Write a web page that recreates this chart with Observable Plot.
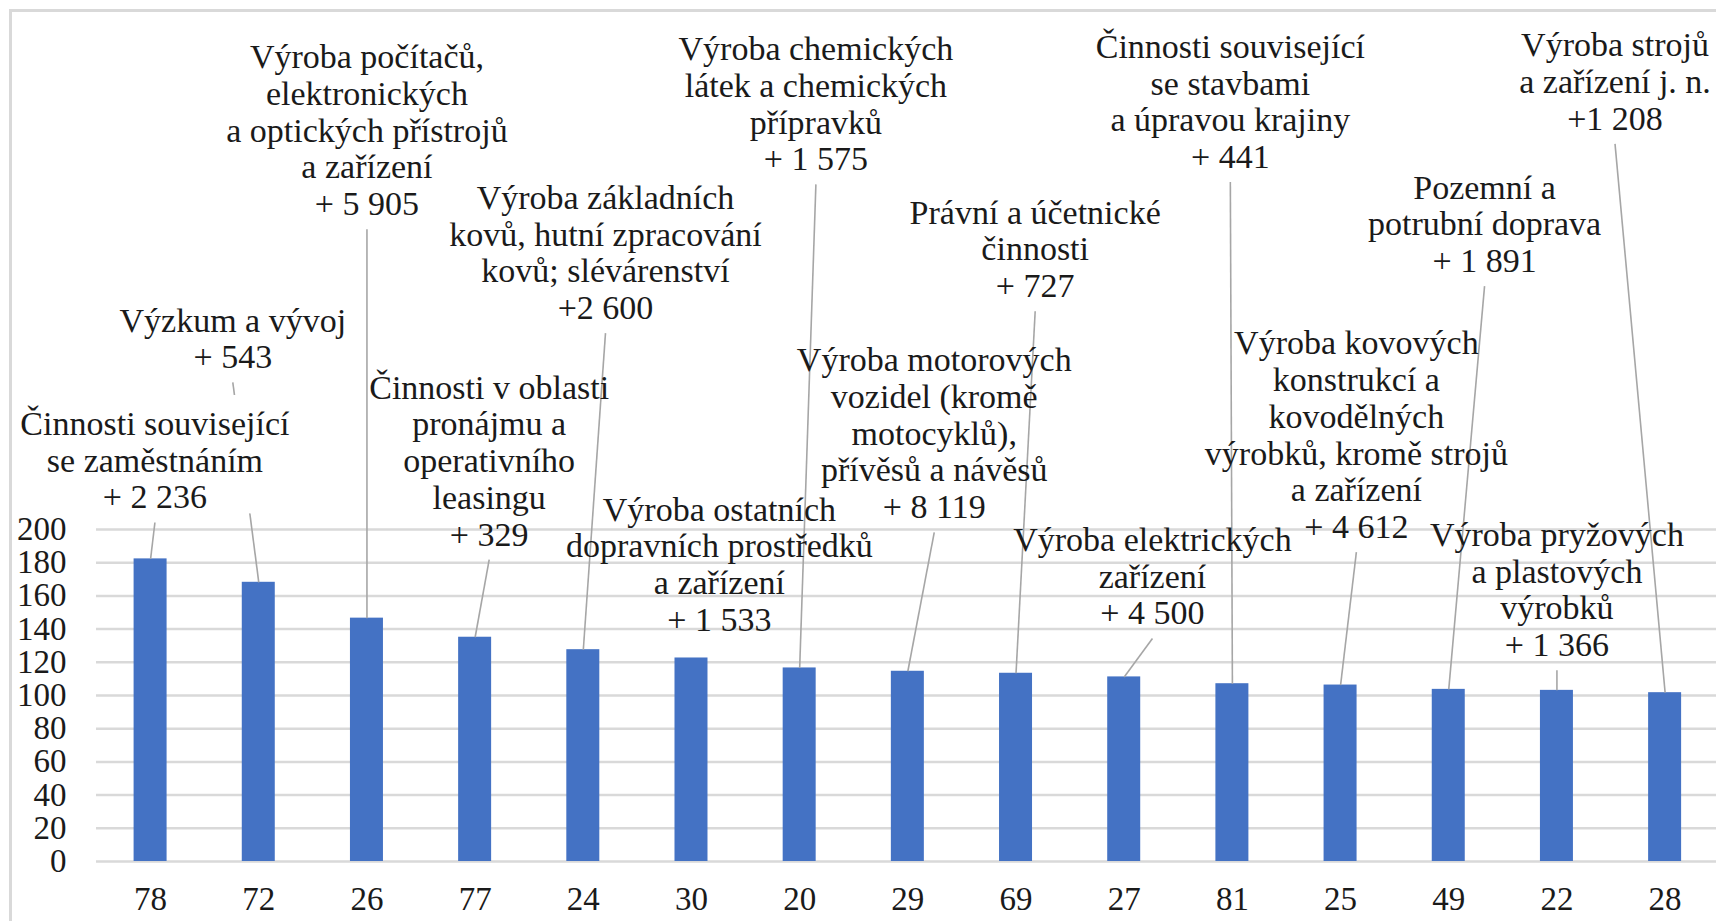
<!DOCTYPE html>
<html>
<head>
<meta charset="utf-8">
<script src="https://cdn.jsdelivr.net/npm/d3@7"></script>
<script src="https://cdn.jsdelivr.net/npm/@observablehq/plot@0.6"></script>
<style>
  html, body { margin: 0; padding: 0; background: #ffffff; }
  #wrap { position: relative; width: 1716px; height: 921px; overflow: hidden; background: #ffffff; }
  #frame { position: absolute; left: 9px; top: 9px; width: 1800px; height: 1000px;
           border-top: 3px solid #d9d9d9; border-left: 3px solid #d9d9d9; pointer-events: none; }
  #chart svg, #chart svg text, #chart svg g {
    font-family: "Liberation Serif", "Tinos", "Times New Roman", "DejaVu Serif", serif !important;
  }
</style>
</head>
<body>
<div id="wrap"><div id="chart"></div><div id="frame"></div></div>
<script>
// ---- data ----
const codes = ["78", "72", "26", "77", "24", "30", "20", "29", "69", "27", "81", "25", "49", "22", "28"];
const values = [182.3, 168.2, 146.6, 135.1, 127.6, 122.6, 116.6, 114.6, 113.4, 111.2, 107.1, 106.3, 103.7, 103.1, 101.7];
const industries = [
  "Činnosti související\nse zaměstnáním",
  "Výzkum a vývoj",
  "Výroba počítačů,\nelektronických\na optických přístrojů\na zařízení",
  "Činnosti v oblasti\npronájmu a\noperativního\nleasingu",
  "Výroba základních\nkovů, hutní zpracování\nkovů; slévárenství",
  "Výroba ostatních\ndopravních prostředků\na zařízení",
  "Výroba chemických\nlátek a chemických\npřípravků",
  "Výroba motorových\nvozidel (kromě\nmotocyklů),\npřívěsů a návěsů",
  "Právní a účetnické\nčinnosti",
  "Výroba elektrických\nzařízení",
  "Činnosti související\nse stavbami\na úpravou krajiny",
  "Výroba kovových\nkonstrukcí a\nkovodělných\nvýrobků, kromě strojů\na zařízení",
  "Pozemní a\npotrubní doprava",
  "Výroba pryžových\na plastových\nvýrobků",
  "Výroba strojů\na zařízení j. n."
];
const changes = ["+ 2 236", "+ 543", "+ 5 905", "+ 329", "+2 600", "+ 1 533", "+ 1 575", "+ 8 119", "+ 727", "+ 4 500", "+ 441", "+ 4 612", "+ 1 891", "+ 1 366", "+1 208"];
const yTicks = [0, 20, 40, 60, 80, 100, 120, 140, 160, 180, 200];

// ---- annotation placement (category-index units / value units) ----
const labelX = [0.04, 0.76, 2.0, 3.13, 4.205, 5.258, 6.15, 7.244, 8.177, 9.261, 9.981, 11.146, 12.331, 13.0, 13.537];
const labelY = [212.7, 297.1, 389.4, 190.3, 326.8, 138.9, 416.4, 206.8, 340.0, 142.8, 417.8, 194.9, 355.1, 123.7, 440.8];
const noLeader = new Set(["30"]);
const opaqueLabels = new Set(["78"]);

const rows = codes.map((c, i) => ({
  i, code: c, value: values[i],
  label: industries[i] + "\n" + changes[i],
  lx: labelX[i], ly: labelY[i]
}));

const FONT = "'Liberation Serif', Tinos, 'Times New Roman', 'DejaVu Serif', serif";

const textOpts = {
  x: "lx", y: "ly", text: "label", lineAnchor: "bottom", lineHeight: 1.08,
  fontSize: 34, fontFamily: FONT, fill: "#1a1a1a", textAnchor: "middle"
};

const plot = Plot.plot({
  width: 1716,
  height: 921,
  marginLeft: 96,
  marginRight: 0,
  marginTop: 529,
  marginBottom: 60,
  x: {type: "linear", domain: [-0.5, 14.475], ticks: codes.map((_, i) => i),
      tickFormat: i => codes[i], tickSize: 0, tickPadding: 25, label: null},
  y: {domain: [0, 200], ticks: yTicks, tickSize: 0, tickPadding: 30, label: null},
  style: {
    fontFamily: FONT,
    fontSize: "33px",
    color: "#1a1a1a",
    background: "transparent",
    overflow: "visible"
  },
  marks: [
    Plot.ruleY(yTicks, {stroke: "#d9d9d9", strokeWidth: 2.5}),
    Plot.rectY(rows, {x1: d => d.i - 0.1525, x2: d => d.i + 0.1525, y: "value", fill: "#4472C4"}),
    Plot.link(rows.filter(d => !noLeader.has(d.code)), {
      x1: "lx", y1: d => d.ly - 8.5, x2: "i", y2: "value",
      stroke: "#a6a6a6", strokeWidth: 1.6
    }),
    Plot.text(rows.filter(d => opaqueLabels.has(d.code)), {...textOpts, ariaDescription: "opaque", ariaLabel: () => "opaque-label"}),
    Plot.text(rows.filter(d => !opaqueLabels.has(d.code)), textOpts)
  ]
});

document.getElementById("chart").appendChild(plot);

// white boxes behind opaque labels (sized from rendered text)
const ns = "http://www.w3.org/2000/svg";
let opaqueTexts = Array.from(plot.querySelectorAll('text[aria-label="opaque-label"]'));
if (!opaqueTexts.length) {
  const og = plot.querySelector('g[aria-description="opaque"]');
  if (og) opaqueTexts = Array.from(og.querySelectorAll("text"));
}
opaqueTexts.forEach(t => {
  const b = t.getBBox();
  const r = document.createElementNS(ns, "rect");
  r.setAttribute("x", b.x - 8);
  r.setAttribute("y", b.y - 10);
  r.setAttribute("width", b.width + 16);
  r.setAttribute("height", b.height + 8);
  r.setAttribute("fill", "#ffffff");
  const tr = t.getAttribute("transform");
  if (tr) r.setAttribute("transform", tr);
  t.parentNode.insertBefore(r, t);
});
</script>
</body>
</html>
